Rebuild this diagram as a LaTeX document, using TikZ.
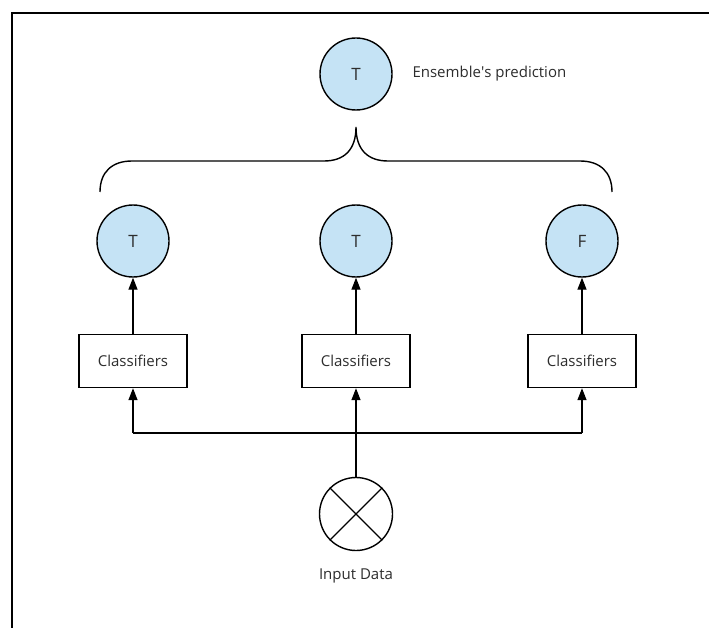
\documentclass[tikz,border=0pt]{standalone}
\usepackage{fontspec}
\setmainfont{Open Sans}
\usetikzlibrary{arrows.meta}
\definecolor{votefill}{RGB}{197,227,245}
\definecolor{labelgray}{RGB}{45,45,45}
\begin{document}
\begin{tikzpicture}[x=1pt,y=-1pt,
  every node/.style={text=labelgray,font=\fontsize{15}{18}\selectfont},
  vote/.style={circle,draw=black,line width=1.4pt,fill=votefill,minimum size=72pt,inner sep=0pt,font=\fontsize{17}{20}\selectfont},
  clf/.style={rectangle,draw=black,line width=1.4pt,minimum width=108pt,minimum height=53pt,inner sep=0pt},
  wire/.style={line width=1.4pt},
  link/.style={wire,-{Triangle[length=12pt,width=9pt]}}]
  % page area
  \useasboundingbox (0,0) rectangle (709,628);
  \fill[white] (0,0) rectangle (709,628);
  % frame edges
  \draw[line width=1.6pt] (12,628) -- (12,13) -- (709,13);

  % ensemble output
  \node[vote] (ens) at (356,74) {T};
  \node[anchor=west] (enslabel) at (409,74) {Ensemble\textquotesingle s prediction};

  % brace gathering the individual votes
  \coordinate (brL) at (100,192);
  \coordinate (brR) at (612,192);
  \coordinate (brTip) at (356,127);
  \draw[wire] (brL) .. controls (100,172) and (112,161) .. (132,161)
    -- (324,161) .. controls (344,161) and (356,150) .. (brTip)
    .. controls (356,150) and (368,161) .. (388,161)
    -- (580,161) .. controls (600,161) and (612,172) .. (brR);

  % individual votes
  \node[vote] (v1) at (133,241) {T};
  \node[vote] (v2) at (356,241) {T};
  \node[vote] (v3) at (582,241) {F};

  % classifiers
  \node[clf] (c1) at (133,361) {Classifiers};
  \node[clf] (c2) at (356,361) {Classifiers};
  \node[clf] (c3) at (582,361) {Classifiers};

  \draw[link] (c1) -- (v1);
  \draw[link] (c2) -- (v2);
  \draw[link] (c3) -- (v3);

  % input
  \node[circle,draw=black,line width=1.4pt,minimum size=73pt,inner sep=0pt] (in) at (356,514) {};
  \draw[wire] (in.45) -- (in.225);
  \draw[wire] (in.135) -- (in.315);
  \node (inlabel) at (356,576) {Input Data};

  % distribution bus
  \coordinate (busL) at (133,433);
  \coordinate (busR) at (582,433);
  \draw[wire] (busL) -- (busR);
  \draw[link] (busL) -- (c1.south);
  \draw[link] (busR) -- (c3.south);
  \draw[link] (in.north) -- (c2.south);
\end{tikzpicture}
\end{document}
